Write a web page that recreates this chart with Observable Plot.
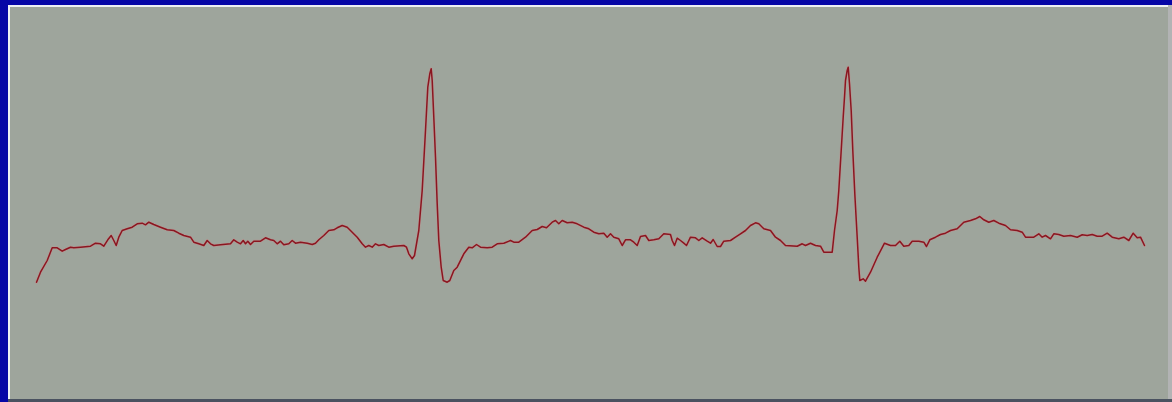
<!DOCTYPE html>
<html><head><meta charset="utf-8">
<script src="https://cdn.jsdelivr.net/npm/d3@7"></script>
<script src="https://cdn.jsdelivr.net/npm/@observablehq/plot@0.6"></script>
<style>
html,body{margin:0;padding:0;background:#0000a8;}
#wrap{position:relative;width:1172px;height:402px;background:#0606a6;overflow:hidden;}
#panel{position:absolute;left:8px;top:5px;width:1162px;height:394px;background:#9ea59c;border-left:2px solid #eef0f4;border-top:2px solid #eef0f4;box-sizing:border-box;}
#rim{position:absolute;right:0;top:5px;width:4px;height:394px;background:#b2b3b4;}
#bottom{position:absolute;left:8px;bottom:0;width:1164px;height:3px;background:#4a5260;}
#chart{position:absolute;left:0;top:0;}
</style></head>
<body>
<div id="wrap"><div id="panel"></div><div id="rim"></div><div id="bottom"></div><div id="chart"></div></div>
<script>
// ECG trace: [time (sample), amplitude (arbitrary units)]
const segStart = [[36,18.3],[40,28.3],[46.7,40],[51.7,52.7],[56.7,52.7],[61.7,49.3],[65,51],[70,53.3],[73.3,52.7],[80,53.3],[90,54.3],[95,57.3],[100,56.7],[103.3,54.3],[107.3,60.7],[110.7,65],[113.3,60],[115.7,55],[118.3,63.3],[121.7,70],[126.7,71.7],[131.7,73.3],[136.7,76.7],[141.7,77.3],[145,75.7],[148.3,78.3],[153.3,76],[160,73.3],[166.7,70.7],[173.3,70],[178.3,67.3],[183.3,65],[190,63.3],[193.3,58.3],[198.3,56.7],[203.3,55],[206.7,60],[210,56.7],[213.3,55],[220,55.7],[230,56.7],[233.3,60.7],[236.7,58.3],[240,56.7],[242.7,60],[245,56.7],[247.3,59.3],[250,56],[253.3,59.3],[260,59.3],[265,62.7],[270,60.7],[273.3,60],[276.7,56.7],[280,59.3],[283.3,55.7],[288.3,56.7],[291.7,60],[295,57.3],[300,58.3],[306.7,57.3],[311.7,56],[315,57.3],[318.3,60.7],[323.3,65],[328.3,70],[333.3,70.7],[336.7,72.7],[341.7,75],[346.7,73.3],[351.7,68.3],[356.7,63.3],[361.7,56.7],[365,53.3],[368.3,55],[371.7,53.3],[375,56.7],[378.3,55],[383.3,56],[388.3,53.3],[393.3,54.3],[403.3,55],[406,53.3]];
const beat1 = [[408.3,46.7],[411.7,41.7],[414,45],[418.3,70],[421.7,110],[425,170],[427.3,213.3],[429.3,226.7],[430.7,231.7],[431.7,220],[433.3,183.3],[435,143.3],[436.7,96.7],[438.3,60],[440.7,33.3],[442.7,20],[446.7,18.3],[449.3,20],[453.3,30],[456.7,33.3],[463.3,46.7],[468.3,53.3],[471.7,52.7],[476,56],[480,53.3],[486.7,52.7],[491.7,53.3],[496.7,56.7],[503.3,57.3],[510,60],[513.3,58.3],[518.3,58.3],[525,63.3],[531.7,70],[536.7,71],[541.7,74],[546,72.7],[551.7,78.3],[555,80],[558.3,76.7],[561.7,80],[566.7,77.7],[571.7,78.3],[576.7,76.7],[583.3,73.3],[588.3,71.7],[593.3,68.3],[598.3,66.7],[603.3,67.3],[606.7,63.3],[610,66.7],[613.3,63.3],[618.3,61.7],[621.7,55],[625,60.7],[630,60.7],[633.3,58.3],[636.7,55],[640,64],[645,65],[648.3,60],[653.3,60.7],[658.3,61.7],[663.3,66.7],[670,66],[671.7,60],[674,55],[676.7,62.3],[680,60],[683.3,57.3],[686,55],[690,63.3],[695,62.7],[698.3,60],[701.7,62.7],[706.7,59.3],[710,57.3],[712.7,61],[716.7,54],[720,54],[723.3,59.3],[730,60],[735,63.3],[740,66.7],[745,70],[750,75],[755,77.7],[758.3,76.7],[763.3,71.7],[770,70],[775,63.3],[780,60],[785,55],[796.7,54.3],[801.7,56.7],[805,55],[810,57.3],[815,55],[820,54.3],[823.3,48.3],[831.7,48.3]];
const beat2 = [[834,70],[836.7,90],[838.3,110],[840.7,150],[842.7,183.3],[844,203.3],[845,220],[846.7,230],[847.7,233.3],[849,216.7],[850.7,190],[852.3,150],[854.3,106.7],[856.7,63.3],[858.3,33.3],[859.3,20],[862.7,21.7],[865,19.3],[870,28.3],[876.7,43.3],[884,57.3],[890,55],[895,55],[899.3,59.3],[903.3,54.3],[908.3,55],[911.7,59.3],[918.3,59.3],[923.3,58.3],[926,54],[929.3,60.7],[935,63.3],[940,66],[945,67.3],[950,70],[956.7,71.7],[963.3,78.3],[970,80],[975,81.7],[979.3,84],[983.3,80.7],[988.3,78.3],[993.3,80],[998.3,77.3],[1005,75],[1010,70.7],[1016.7,70],[1021.7,68.3],[1025,63.3],[1033.3,63.3],[1038.3,66.7],[1041.7,63.3],[1045,65],[1050,61.7],[1053.3,66.7],[1058.3,66],[1063.3,64.3],[1070,65],[1076.7,63.3],[1081.7,65.7],[1086.7,65],[1091.7,66],[1096.7,64.3],[1101.7,64.3],[1106.7,67.3],[1111.7,63.3],[1118.3,61.7],[1123.3,63.3],[1128.3,60],[1132.7,67.3],[1136.7,62.7],[1140,63.3],[1144,55]];
const data = [...segStart, ...beat1, ...beat2].map(([t, v]) => ({t, v}));

const chart = Plot.plot({
  width: 1172,
  height: 402,
  margin: 0,
  style: {background: "transparent", overflow: "visible"},
  x: {domain: [0, 1172], axis: null},
  y: {domain: [-102, 300], axis: null},
  marks: [
    Plot.line(data, {x: "t", y: "v", stroke: "#e07a80", strokeWidth: 2.8, strokeOpacity: 0.35}),
    Plot.line(data, {x: "t", y: "v", stroke: "#8a1620", strokeWidth: 1.5})
  ]
});
document.getElementById("chart").appendChild(chart);
</script>
</body></html>
